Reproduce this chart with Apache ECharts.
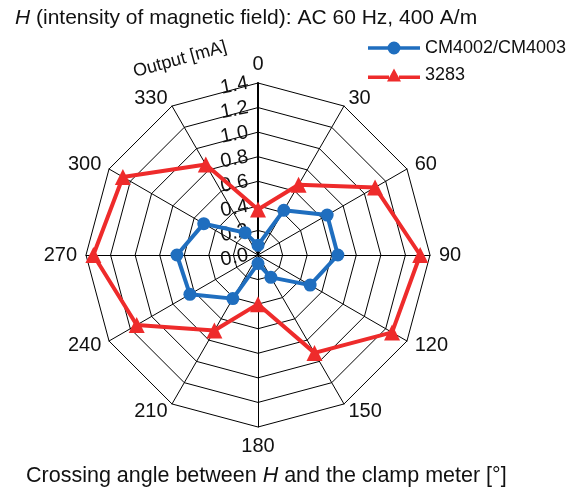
<!DOCTYPE html>
<html><head><meta charset="utf-8">
<script src="https://cdn.jsdelivr.net/npm/echarts@6/dist/echarts.min.js"></script>
<style>html,body{margin:0;padding:0;background:#fff}#c{width:581px;height:490px}</style>
</head><body><div id="c"></div>
<script>
const angles = [0, 30, 60, 90, 120, 150, 180, 210, 240, 270, 300, 330];
const cm4002 = [0.08, 0.42, 0.65, 0.65, 0.49, 0.21, 0.07, 0.41, 0.64, 0.66, 0.51, 0.21];
const m3283 = [0.37, 0.66, 1.10, 1.32, 1.26, 0.92, 0.40, 0.71, 1.14, 1.34, 1.27, 0.85];
const seriesNames = ['CM4002/CM4003', '3283'];
const radialMax = 1.4;

// ECharts radar goes counter-clockwise; reorder so angles run clockwise
const order = [0].concat(angles.slice(1).map((_, i) => angles.length - 1 - i));
const FONT = 'Liberation Sans, Arial, sans-serif';

const tickLabelStyle = { show: true, fontSize: 20, color: '#111', fontFamily: FONT, rotate: 11, margin: 10,
  padding: [7, 0, 0, 0], formatter: v => v.toFixed(1) };

const indicators = order.map((idx, k) => {
  const ind = { name: String(angles[idx]), min: 0, max: radialMax };
  if (k === 0) {
    ind.axisLabel = tickLabelStyle;
    ind.axisLine = { lineStyle: { color: '#000', width: 2 } };
  }
  return ind;
});

const chart = echarts.init(document.getElementById('c'));
chart.setOption({
  animation: false,
  title: [{
    text: '{i|H} (intensity of magnetic field): AC 60 Hz, 400 A/m',
    left: 10, top: 3,
    textStyle: { fontSize: 21, fontWeight: 'normal', color: '#111', fontFamily: FONT,
      rich: { i: { fontStyle: 'italic', fontSize: 21, color: '#111', fontFamily: FONT } } }
  }, {
    text: 'Crossing angle between {i|H} and the clamp meter [°]',
    left: 21, top: 460,
    textStyle: { fontSize: 21.5, fontWeight: 'normal', color: '#111', fontFamily: FONT,
      rich: { i: { fontStyle: 'italic', fontSize: 21.5, color: '#111', fontFamily: FONT } } }
  }],
  legend: {
    orient: 'vertical', left: 363, top: 34,
    itemWidth: 52, itemHeight: 13, itemGap: 9,
    textStyle: { fontSize: 18, color: '#111', fontFamily: FONT },
    data: [
      { name: seriesNames[0], icon: 'path://M0,4.75 L20,4.75 L20,8.25 L0,8.25 Z M32,4.75 L52,4.75 L52,8.25 L32,8.25 Z M19.5,6.5 A6.5,6.5 0 1 1 32.5,6.5 A6.5,6.5 0 1 1 19.5,6.5 Z' },
      { name: seriesNames[1], icon: 'path://M0,7 L21,7 L21,10.5 L0,10.5 Z M31,7 L52,7 L52,10.5 L31,10.5 Z M26,0 L33,13 L19,13 Z' }
    ]
  },
  radar: {
    center: [258, 255],
    radius: 172,
    shape: 'polygon',
    splitNumber: 7,
    indicator: indicators,
    axisName: { color: '#111', fontSize: 20, fontFamily: FONT },
    nameGap: 9,
    splitArea: { show: false },
    splitLine: { lineStyle: { color: '#000', width: 1 } },
    axisLine: { lineStyle: { color: '#000', width: 1 } },
    axisTick: { show: false },
    axisLabel: { show: false }
  },
  graphic: [{
    type: 'text', x: 136, y: 81, rotation: 0.27,
    style: { text: 'Output [mA]', fontSize: 18, fill: '#111', fontFamily: FONT,
      align: 'left', verticalAlign: 'bottom' }
  }],
  series: [{
    type: 'radar',
    data: [{
      name: seriesNames[0],
      value: order.map(i => cm4002[i]),
      symbol: 'circle', symbolSize: 13,
      lineStyle: { color: '#1f6ebf', width: 4 },
      itemStyle: { color: '#1f6ebf' }
    }, {
      name: seriesNames[1],
      value: order.map(i => m3283[i]),
      symbol: 'triangle', symbolSize: 16,
      lineStyle: { color: '#ee2b2b', width: 4 },
      itemStyle: { color: '#ee2b2b' }
    }]
  }]
});
</script></body></html>
